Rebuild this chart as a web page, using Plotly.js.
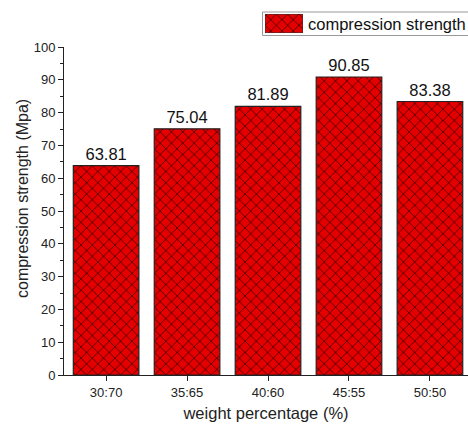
<!DOCTYPE html>
<html><head><meta charset="utf-8">
<script src="https://cdn.plot.ly/plotly-3.0.1.min.js"></script>
<style>body{margin:0;background:#fff}#c{width:468px;height:425px}</style>
</head><body><div id="c"></div>
<script>
const categories = ["30:70","35:65","40:60","45:55","50:50"];
const strength = [63.81, 75.04, 81.89, 90.85, 83.38];
const labels = ["63.81","75.04","81.89","90.85","83.38"];
const seriesName = "compression strength";
const xTitle = "weight percentage (%)";
const yTitle = "compression strength (Mpa)";

const W = 468, H = 425;
const px = v => v / W, py = v => (H - v) / H;

const pattern = {shape: 'x', bgcolor: '#e40000', fgcolor: '#5a0000', size: 8, solidity: 0.22};

const trace = {
  type: 'bar', x: categories, y: strength, name: seriesName,
  width: 0.81, showlegend: false,
  text: labels, textposition: 'outside', cliponaxis: false,
  textfont: {family: 'Liberation Sans, Arial', size: 16.5, color: '#111'},
  marker: {color: '#e40000', line: {color: '#222', width: 1.2}, pattern: pattern}
};
// legend sample patch
const legendPatch = {
  type: 'bar', x: [0], y: [1], xaxis: 'x2', yaxis: 'y2', width: 1, showlegend: false,
  hoverinfo: 'skip',
  marker: {color: '#e40000', line: {color: '#333', width: 1}, pattern: pattern}
};
const layout = {
  width: W, height: H,
  margin: {l: 0, r: 0, t: 0, b: 0},
  paper_bgcolor: '#fff', plot_bgcolor: 'rgba(0,0,0,0)',
  font: {family: 'Liberation Sans, Arial', color: '#222'},
  showlegend: false,
  xaxis: {domain: [px(64), 1], range: [-0.52, 4.47], showline: true, linecolor: '#222', linewidth: 1,
    ticks: 'outside', ticklen: 5, tickcolor: '#222', tickfont: {size: 13},
    minor: {ticks: 'outside', ticklen: 3, tickcolor: '#222', dtick: 1, tick0: 0.5},
    title: {text: xTitle, font: {size: 16.5}, standoff: 8}},
  yaxis: {domain: [py(375), py(47)], range: [0, 100], dtick: 10, showline: true, linecolor: '#222', linewidth: 1,
    showgrid: false, zeroline: false, ticks: 'outside', ticklen: 5, tickcolor: '#222',
    tickfont: {size: 13},
    minor: {ticks: 'outside', ticklen: 3, dtick: 5, tickcolor: '#222'}},
  xaxis2: {domain: [px(265), px(303)], range: [-0.5, 0.5], visible: false, fixedrange: true},
  yaxis2: {domain: [py(33), py(14)], range: [0, 1], visible: false, anchor: 'x2', fixedrange: true},
  shapes: [
    {type: 'rect', xref: 'paper', yref: 'paper', x0: px(262.5), x1: px(480), y0: py(35.5), y1: py(12),
     line: {color: '#999', width: 1}, fillcolor: 'rgba(0,0,0,0)', layer: 'below'}
  ],
  annotations: [
    {text: seriesName, xref: 'paper', yref: 'paper', x: px(306), y: py(24), xanchor: 'left', yanchor: 'middle',
     showarrow: false, font: {size: 16.5, color: '#111'}},
    {text: yTitle, xref: 'paper', yref: 'paper', x: px(22), y: py(199), xanchor: 'center', yanchor: 'middle',
     textangle: -90, showarrow: false, font: {size: 16, color: '#222'}}
  ]
};
Plotly.newPlot('c', [trace, legendPatch], layout, {displayModeBar: false, staticPlot: true});
</script></body></html>
